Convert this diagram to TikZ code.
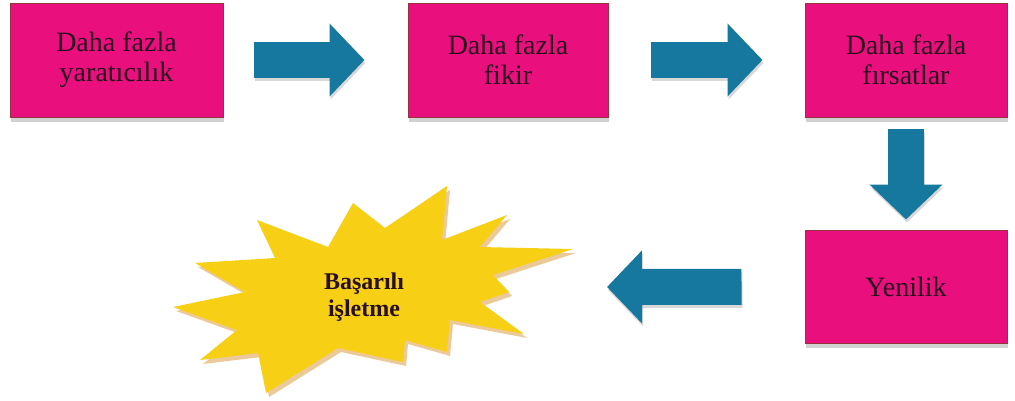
\documentclass[tikz,border=0pt]{standalone}
\usepackage{fontspec}
\setmainfont{Liberation Serif}
\usetikzlibrary{arrows.meta,shadows}
\definecolor{boxpink}{RGB}{233,16,125}
\definecolor{boxedge}{RGB}{150,50,60}
\definecolor{flowteal}{RGB}{22,120,158}
\definecolor{burst}{RGB}{247,208,22}
\definecolor{burstshade}{RGB}{222,158,70}
\definecolor{ink}{RGB}{40,15,30}
\newcommand\burstoutline{(447,186) -- (442,240) -- (507,215) -- (480,247) -- (573,249)
  -- (493,275) -- (509,292) -- (480,302) -- (524,334) -- (450,320) -- (447,352)
  -- (405,340) -- (403,362) -- (338,348) -- (266,393) -- (258,353) -- (200,360)
  -- (237,330) -- (173,307) -- (245,292) -- (195,263) -- (275,258) -- (257,220)
  -- (328,247) -- (353,203) -- (385,228) -- cycle}
\begin{document}
\begin{tikzpicture}[x=1pt,y=-1pt,
  stepbox/.style={draw=boxedge, line width=1pt, fill=boxpink, minimum height=114pt,
    inner sep=0pt, align=center, text=ink, font=\fontsize{28}{30}\selectfont,
    drop shadow={shadow xshift=1pt, shadow yshift=-5pt, fill=black!45, opacity=.4}},
  flow/.style={draw=flowteal, line width=36pt, -{Triangle[width=71pt,length=35pt]},
    preaction={draw=black!30, opacity=.5, line width=36pt,
      -{Triangle[width=71pt,length=35pt]}, transform canvas={shift={(1pt,-3pt)}}}}]
  \fill[white] (0,0) rectangle (1015,400);
  \useasboundingbox (0,0) rectangle (1015,400);

  % process boxes
  \node[stepbox, minimum width=213pt] (b1) at (116.5,60) {Daha fazla\\yaratıcılık};
  \node[stepbox, minimum width=200pt] (b2) at (508,60) {Daha fazla\\fikir};
  \node[stepbox, minimum width=202pt] (b3) at (906,60) {Daha fazla\\fırsatlar};
  \node[stepbox, minimum width=202pt, minimum height=113pt] (b4) at (906,286.5) {Yenilik};

  % starburst for the final outcome
  \fill[burstshade, opacity=.55, shift={(3,4)}] \burstoutline;
  \fill[burst] \burstoutline;
  \node[font=\bfseries\fontsize{24}{27}\selectfont, text=ink, align=center] (succ)
    at (364,297) {Başarılı\\işletme};
  \coordinate (land) at (607,287);

  % block arrows between the stages
  \draw[flow, shorten <=30pt, shorten >=43pt] (b1) -- (b2);
  \draw[flow, shorten <=42pt, shorten >=42pt] (b2) -- (b3);
  \draw[flow, shorten <=11pt, shorten >=10pt] (b3) -- (b4);
  \draw[flow, shorten <=63pt] (b4) -- (land);
\end{tikzpicture}
\end{document}
